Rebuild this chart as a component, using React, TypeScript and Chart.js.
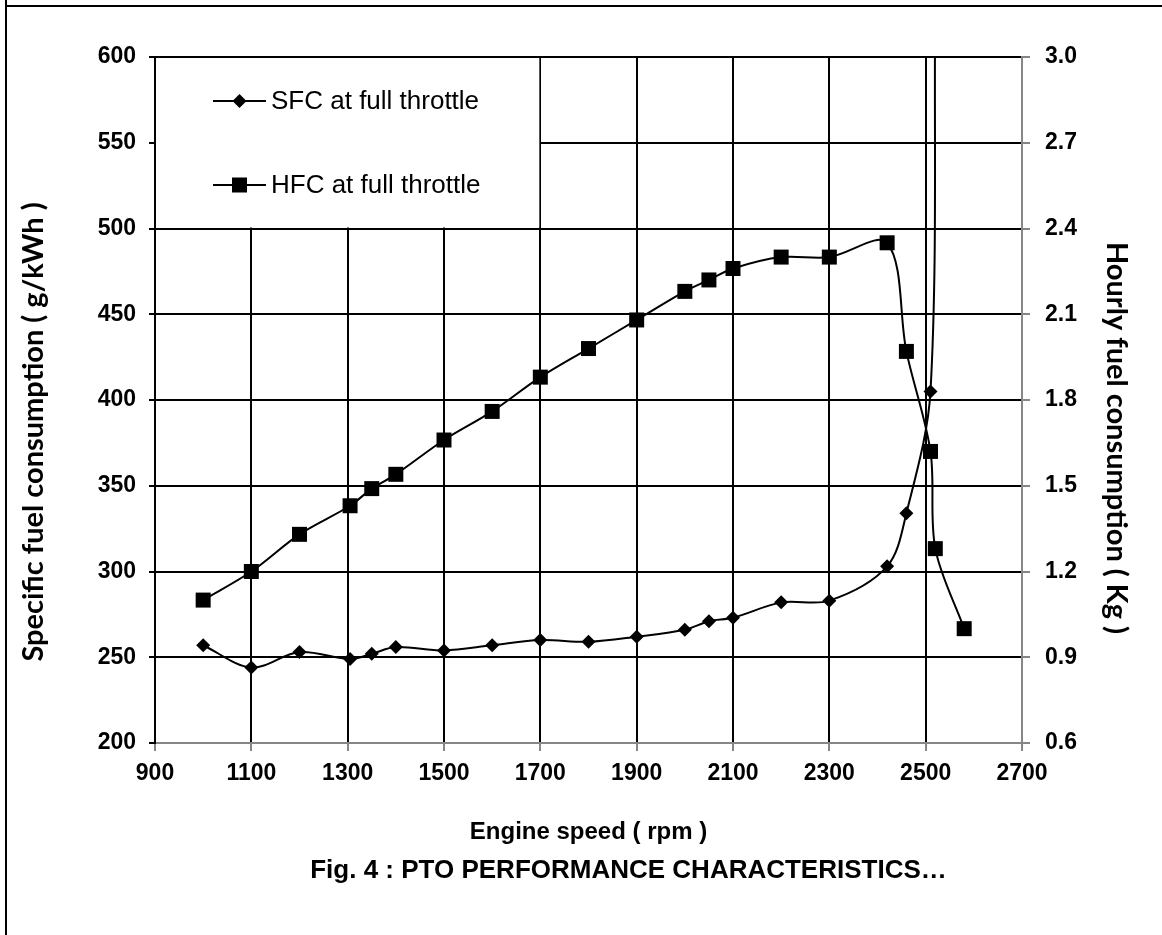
import React, { useEffect, useRef } from "react";
import { Chart, registerables } from "chart.js";

Chart.register(...registerables);

const W = 1162;
const H = 935;

// Axis ticks
const speedTicks = [900, 1100, 1300, 1500, 1700, 1900, 2100, 2300, 2500, 2700];
const sfcTicks = [200, 250, 300, 350, 400, 450, 500, 550, 600];
const hfcTicks = [0.6, 0.9, 1.2, 1.5, 1.8, 2.1, 2.4, 2.7, 3.0];

// Specific fuel consumption (g/kWh) vs engine speed (rpm)
const sfcSpeed = [1000, 1100, 1200, 1305, 1350, 1400, 1500, 1600, 1700, 1800, 1900, 2000, 2050, 2100, 2200, 2300, 2420, 2460, 2510, 2520];
const sfcValues = [257, 244, 253, 249, 252, 256, 254, 257, 260, 259, 262, 266, 271, 273, 282, 283, 303, 334, 405, 640];

// Hourly fuel consumption (kg) vs engine speed (rpm)
const hfcSpeed = [1000, 1100, 1200, 1305, 1350, 1400, 1500, 1600, 1700, 1800, 1900, 2000, 2050, 2100, 2200, 2300, 2420, 2460, 2510, 2520, 2580];
const hfcValues = [1.1, 1.2, 1.33, 1.43, 1.49, 1.54, 1.66, 1.76, 1.88, 1.98, 2.08, 2.18, 2.22, 2.26, 2.3, 2.3, 2.35, 1.97, 1.62, 1.28, 1.0];

const seriesNames = ["SFC at full throttle", "HFC at full throttle"];
const xTitle = "Engine speed ( rpm )";
const yTitle = "Specific fuel consumption ( g/kWh )";
const y2Title = "Hourly fuel consumption ( Kg )";
const caption = "Fig. 4 : PTO PERFORMANCE CHARACTERISTICS\u2026";

const INK = "#000000";
const GREY = "#868686";
const ARIAL = "'Liberation Sans', Arial, Helvetica, sans-serif";
const TITLE_FONT = "Lato, 'Noto Sans', sans-serif";
const tickFont = { family: ARIAL, size: 23, weight: "bold" as const };

function diamond(ctx: CanvasRenderingContext2D, cx: number, cy: number, r: number) {
  ctx.beginPath();
  ctx.moveTo(cx, cy - r);
  ctx.lineTo(cx + r, cy);
  ctx.lineTo(cx, cy + r);
  ctx.lineTo(cx - r, cy);
  ctx.closePath();
  ctx.fill();
}

// Page frame (left and top rule)
const framePlugin = {
  id: "frame",
  beforeDraw(chart: any) {
    const { ctx } = chart;
    ctx.save();
    ctx.fillStyle = "#ffffff";
    ctx.fillRect(0, 0, W, H);
    ctx.fillStyle = INK;
    ctx.fillRect(5, 0, 2, H);
    ctx.fillRect(5, 5, W, 2);
    ctx.restore();
  },
};

// White legend panel in the upper-left cell block of the plot
const legendPanel = {
  id: "legendPanel",
  beforeDatasetsDraw(chart: any) {
    const { ctx } = chart;
    const x = chart.scales.x;
    const y = chart.scales.y;
    const left = x.getPixelForValue(900);
    const right = x.getPixelForValue(1700);
    const top = y.getPixelForValue(600);
    const bottom = y.getPixelForValue(500);
    ctx.save();
    ctx.fillStyle = "#ffffff";
    ctx.fillRect(left + 1, top + 1, right - left - 2, bottom - top - 2);

    const rows = [top + 44, top + 128];
    const x0 = left + 58;
    const x1 = left + 111;
    const mx = (x0 + x1) / 2;
    ctx.strokeStyle = INK;
    ctx.fillStyle = INK;
    ctx.lineWidth = 2;
    rows.forEach((ry, i) => {
      ctx.beginPath();
      ctx.moveTo(x0, ry);
      ctx.lineTo(x1, ry);
      ctx.stroke();
      if (i === 0) diamond(ctx, mx, ry, 7);
      else ctx.fillRect(mx - 7.5, ry - 7.5, 15, 15);
      ctx.font = `26px ${ARIAL}`;
      ctx.textAlign = "left";
      ctx.textBaseline = "middle";
      ctx.fillText(seriesNames[i], x1 + 5, ry + 1);
    });
    ctx.restore();
  },
};

// Axis titles and figure caption
const titlesPlugin = {
  id: "titles",
  afterDraw(chart: any) {
    const { ctx, chartArea } = chart;
    const cx = (chartArea.left + chartArea.right) / 2;
    ctx.save();
    ctx.fillStyle = INK;
    ctx.textAlign = "center";
    ctx.textBaseline = "middle";

    ctx.font = `bold 24px ${ARIAL}`;
    ctx.fillText(xTitle, cx, chartArea.bottom + 89);
    ctx.font = `bold 26px ${ARIAL}`;
    ctx.fillText(caption, cx + 40, chartArea.bottom + 128);

    ctx.font = `bold 29px ${TITLE_FONT}`;
    ctx.save();
    ctx.translate(34, 432);
    ctx.rotate(-Math.PI / 2);
    ctx.fillText(yTitle, 0, 0);
    ctx.restore();

    ctx.save();
    ctx.translate(1116, 438);
    ctx.rotate(Math.PI / 2);
    ctx.fillText(y2Title, 0, 0);
    ctx.restore();
    ctx.restore();
  },
};

export default function App() {
  const canvasRef = useRef<HTMLCanvasElement | null>(null);

  useEffect(() => {
    const canvas = canvasRef.current;
    if (!canvas) return;

    const chart = new Chart(canvas, {
      type: "line",
      data: {
        datasets: [
          {
            label: seriesNames[0],
            data: sfcSpeed.map((s, i) => ({ x: s, y: sfcValues[i] })),
            yAxisID: "y",
            borderColor: INK,
            backgroundColor: INK,
            borderWidth: 2,
            pointStyle: "rectRot",
            pointRadius: 7,
            pointBorderWidth: 0,
            tension: 0.33,
          },
          {
            label: seriesNames[1],
            data: hfcSpeed.map((s, i) => ({ x: s, y: hfcValues[i] })),
            yAxisID: "y2",
            borderColor: INK,
            backgroundColor: INK,
            borderWidth: 2,
            pointStyle: "rect",
            pointRadius: 10.6,
            pointBorderWidth: 0,
            tension: 0.33,
          },
        ],
      },
      options: {
        animation: false,
        responsive: false,
        devicePixelRatio: 1,
        layout: { padding: { top: 57, left: 0, right: 0, bottom: 0 } },
        plugins: {
          legend: { display: false },
          tooltip: { enabled: false },
        },
        scales: {
          x: {
            type: "linear",
            min: 900,
            max: 2700,
            afterBuildTicks: (s: any) => {
              s.ticks = speedTicks.map((value) => ({ value }));
            },
            afterFit: (s: any) => {
              s.height = H - 743;
            },
            grid: {
              color: (c: any) => (c.tick && c.tick.value === 2700 ? GREY : INK),
              lineWidth: 2,
              tickColor: GREY,
              tickLength: 8,
            },
            border: { color: GREY, width: 2 },
            ticks: {
              color: INK,
              font: tickFont,
              padding: 9,
              maxRotation: 0,
              autoSkip: false,
              callback: (v: any) => String(v),
            },
          },
          y: {
            type: "linear",
            position: "left",
            min: 200,
            max: 600,
            afterBuildTicks: (s: any) => {
              s.ticks = sfcTicks.map((value) => ({ value }));
            },
            afterFit: (s: any) => {
              s.width = 155;
            },
            grid: {
              color: (c: any) => (c.tick && c.tick.value === 200 ? GREY : INK),
              lineWidth: 2,
              tickColor: INK,
              tickLength: 6,
            },
            border: { color: INK, width: 2 },
            ticks: {
              color: INK,
              font: tickFont,
              padding: 13,
              callback: (v: any) => String(v),
            },
          },
          y2: {
            type: "linear",
            position: "right",
            min: 0.6,
            max: 3.0,
            afterBuildTicks: (s: any) => {
              s.ticks = hfcTicks.map((value) => ({ value }));
            },
            afterFit: (s: any) => {
              s.width = W - 1022;
            },
            grid: {
              drawOnChartArea: false,
              lineWidth: 2,
              tickColor: GREY,
              tickLength: 8,
            },
            border: { color: GREY, width: 2 },
            ticks: {
              color: INK,
              font: tickFont,
              padding: 15,
              callback: (v: any) => Number(v).toFixed(1),
            },
          },
        },
      },
      plugins: [framePlugin, legendPanel, titlesPlugin],
    });

    return () => chart.destroy();
  }, []);

  return (
    <div style={{ position: "fixed", left: 0, top: 0, width: W, height: H, background: "#fff" }}>
      <canvas ref={canvasRef} width={W} height={H} style={{ display: "block", width: W, height: H }} />
    </div>
  );
}
